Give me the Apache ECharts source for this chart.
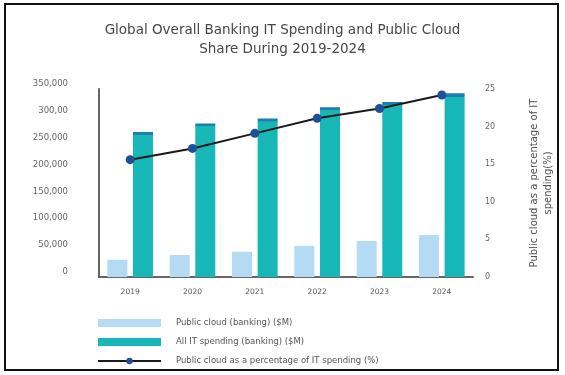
<!DOCTYPE html>
<html>
<head>
<meta charset="utf-8">
<script src="https://cdn.jsdelivr.net/npm/echarts@6/dist/echarts.min.js"></script>
<style>
  html, body { margin: 0; padding: 0; background: #ffffff; }
  #chart { width: 565px; height: 375px; }
</style>
</head>
<body>
<div id="chart"></div>
<script>
// Years on the category axis
var years = ['2019', '2020', '2021', '2022', '2023', '2024'];
// Public cloud spending in banking ($M)
var publicCloud = [32000, 41000, 47000, 58000, 67000, 78000];
// All IT spending in banking ($M)
var allIT = [270000, 286000, 295000, 316000, 326000, 342000];
// Public cloud as a percentage of IT spending (%)
var cloudShare = [15.6, 17.1, 19.1, 21.1, 22.4, 24.2];
// Tick labels of the left axis, as printed
var leftTicks = ['0', '50,000', '100,000', '150,000', '200,000', '250,000', '300,00', '350,000'];

var FONT = '"DejaVu Sans", "Noto Sans", sans-serif';

var chart = echarts.init(document.getElementById('chart'), null, { renderer: 'canvas' });

chart.setOption({
  backgroundColor: '#ffffff',
  animation: false,
  title: {
    text: 'Global Overall Banking IT Spending and Public Cloud\nShare During 2019-2024',
    left: 'center',
    top: 16,
    textStyle: { fontFamily: FONT, fontSize: 13.5, fontWeight: 'normal', color: '#474747', lineHeight: 19 }
  },
  graphic: [{
    type: 'rect',
    shape: { x: 5, y: 4, width: 553, height: 366 },
    style: { fill: 'none', stroke: '#111111', lineWidth: 2 },
    silent: true
  }],
  legend: {
    orient: 'vertical',
    left: 97,
    top: 318,
    height: 56,
    padding: 0,
    itemWidth: 63,
    itemHeight: 8,
    itemGap: 9,
    textStyle: { fontFamily: FONT, fontSize: 8.5, color: '#555555', lineHeight: 10, padding: [0, 0, 0, 10] },
    data: [
      { name: 'Public cloud (banking) ($M)', icon: 'rect' },
      { name: 'All IT spending (banking) ($M)', icon: 'rect' },
      { name: 'Public cloud as a percentage of IT spending (%)' }
    ]
  },
  grid: { left: 99, right: 92, top: 89, bottom: 98, containLabel: false },
  xAxis: {
    type: 'category',
    data: years,
    axisLine: { lineStyle: { color: '#666666', width: 2 } },
    axisTick: { show: false },
    axisLabel: { fontFamily: FONT, fontSize: 7.5, color: '#555555', margin: 11 }
  },
  yAxis: [{
    type: 'value',
    min: 0,
    max: 350000,
    interval: 50000,
    position: 'left',
    axisLine: { show: true, lineStyle: { color: '#666666', width: 2 } },
    axisTick: { show: false },
    splitLine: { show: false },
    axisLabel: {
      fontFamily: FONT, fontSize: 8.5, color: '#666666', margin: 31,
      verticalAlign: 'bottom', lineHeight: 10,
      formatter: function (v) { return leftTicks[Math.round(v / 50000)]; }
    }
  }, {
    type: 'value',
    min: 0,
    max: 25,
    interval: 5,
    position: 'right',
    name: 'Public cloud as a percentage of IT\nspending(%)',
    nameLocation: 'middle',
    nameRotate: 90,
    nameGap: 54,
    nameTextStyle: { fontFamily: FONT, fontSize: 10, color: '#505050', lineHeight: 14, align: 'center' },
    axisLine: { show: false },
    axisTick: { show: false },
    splitLine: { show: false },
    axisLabel: { fontFamily: FONT, fontSize: 8, color: '#666666', margin: 12 }
  }],
  series: [{
    name: 'Public cloud (banking) ($M)',
    type: 'bar',
    data: publicCloud,
    barWidth: 20,
    barGap: '28%',
    itemStyle: { color: '#b5daf3' }
  }, {
    name: 'All IT spending (banking) ($M)',
    type: 'bar',
    data: allIT,
    barWidth: 20,
    itemStyle: {
      color: {
        type: 'linear', x: 0, y: 0, x2: 0, y2: 1,
        colorStops: [
          { offset: 0, color: '#1c7fae' },
          { offset: 0.018, color: '#1c7fae' },
          { offset: 0.019, color: '#17b7b7' },
          { offset: 1, color: '#17b7b7' }
        ]
      }
    }
  }, {
    name: 'Public cloud as a percentage of IT spending (%)',
    type: 'line',
    yAxisIndex: 1,
    data: cloudShare,
    symbol: 'circle',
    symbolSize: 9,
    z: 5,
    lineStyle: { color: '#1a1a1a', width: 2 },
    itemStyle: { color: '#1f4f97' }
  }]
});
</script>
</body>
</html>
